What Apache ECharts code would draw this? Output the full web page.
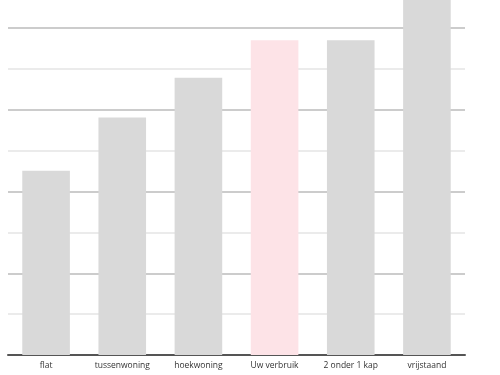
<!DOCTYPE html>
<html>
<head>
<meta charset="utf-8">
<script src="https://cdn.jsdelivr.net/npm/echarts@6/dist/echarts.min.js"></script>
<style>html,body{margin:0;padding:0;background:#fff}#c{width:500px;height:375px}</style>
</head>
<body>
<div id="c"></div>
<script>
var categories = ['flat', 'tussenwoning', 'hoekwoning', 'Uw verbruik', '2 onder 1 kap', 'vrijstaand'];
var values = [4.51, 5.81, 6.78, 7.70, 7.70, 9.2];
var highlightIndex = 3;

var chart = echarts.init(document.getElementById('c'), null, {renderer: 'canvas'});
chart.setOption({
  animation: false,
  grid: {left: 8, right: 35, top: 28, bottom: 20},
  xAxis: {
    type: 'category',
    data: categories,
    axisLine: {lineStyle: {color: '#555', width: 2}},
    axisTick: {show: false},
    axisLabel: {fontFamily: 'Open Sans', fontSize: 8.5, color: '#333', margin: 6}
  },
  yAxis: {
    type: 'value',
    min: 0, max: 8, interval: 1,
    axisLabel: {show: false},
    axisLine: {show: false},
    axisTick: {show: false},
    splitLine: {lineStyle: {color: ['#cccccc', '#ebebeb'], width: 2}}
  },
  series: [{
    type: 'bar',
    clip: false,
    barWidth: '62.5%',
    data: values.map(function (v, i) {
      return {value: v, itemStyle: {color: i === highlightIndex ? '#fde3e7' : '#d9d9d9'}};
    })
  }]
});
</script>
</body>
</html>
